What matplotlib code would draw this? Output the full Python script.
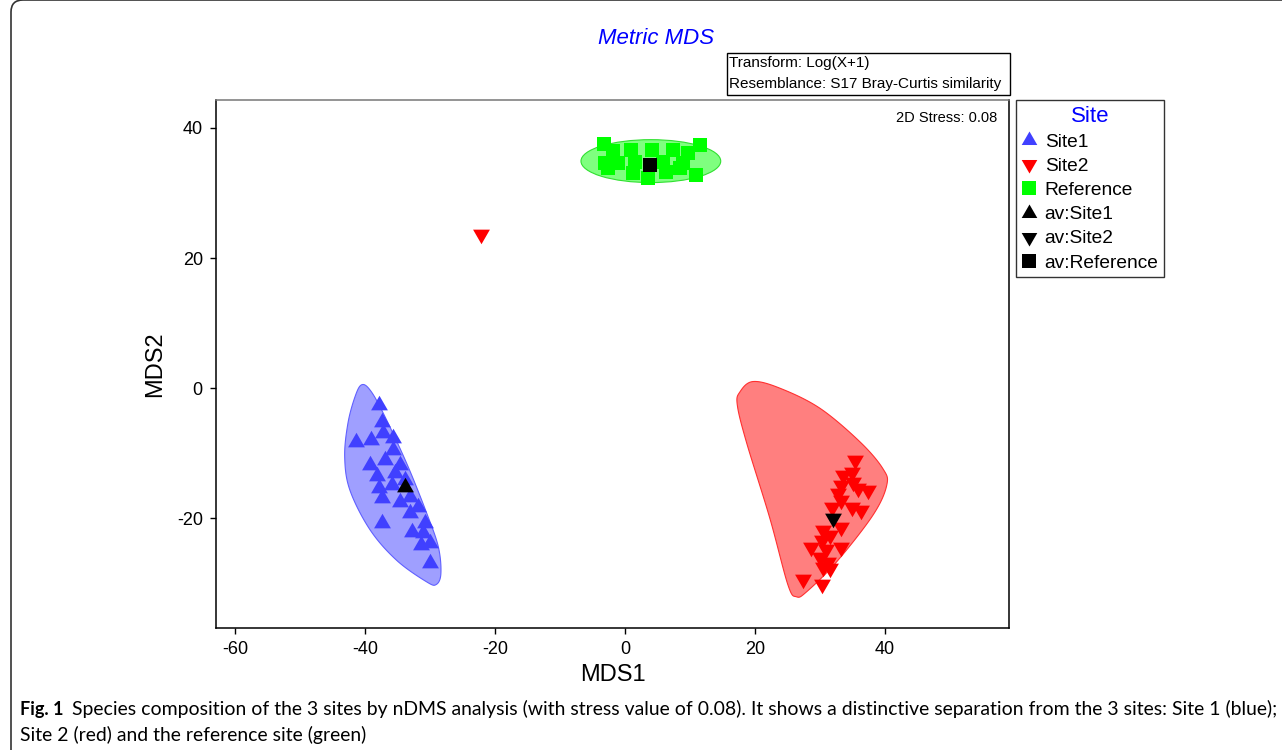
import numpy as np
import matplotlib
matplotlib.use("Agg")
import matplotlib.pyplot as plt
from matplotlib.lines import Line2D
from matplotlib.patches import Polygon, Ellipse, Rectangle, FancyBboxPatch

plt.rcParams["font.family"] = ["Liberation Sans", "DejaVu Sans"]
plt.rcParams["axes.unicode_minus"] = False

# ---- data (MDS1, MDS2) ----
site1_x = [-37.9, -37.4, -41.3, -39.0, -37.2, -35.6, -35.6, -36.9, -39.2, -34.6,
           -38.2, -35.4, -33.8, -37.9, -35.9, -37.4, -34.6, -33.1, -31.8, -33.1,
           -37.4, -30.8, -32.8, -31.0, -30.0, -31.3, -30.0]
site1_y = [-2.6, -5.2, -8.3, -8.0, -6.9, -7.7, -9.5, -11.1, -11.8, -11.8,
           -13.6, -13.1, -14.2, -15.4, -14.9, -16.9, -17.5, -16.7, -18.3, -19.2,
           -20.8, -20.8, -22.1, -22.3, -23.8, -24.2, -26.9]

site2_x = [35.4, 34.9, 33.6, 35.1, 33.3, 35.9, 37.4, 32.8, 33.3, 34.9,
           36.4, 31.8, 33.3, 30.5, 31.5, 30.3, 33.3, 28.7, 31.0, 30.0,
           31.3, 30.5, 31.5, 27.4, 30.3, -22.2]
site2_y = [-11.1, -12.9, -13.4, -14.4, -14.9, -15.4, -15.7, -16.2, -17.2, -18.3,
           -18.8, -18.3, -21.3, -21.8, -22.6, -23.4, -24.4, -24.4, -24.7, -26.0,
           -26.7, -27.5, -27.7, -29.3, -30.1, 23.7]

ref_x = [-3.2, -1.8, 1.0, 4.1, 7.4, 9.7, 11.6, -3.1, -1.0, 1.5,
         5.9, 9.0, -2.6, 1.3, 3.6, 6.4, 8.5, 11.0]
ref_y = [37.6, 36.4, 36.6, 36.6, 36.6, 36.1, 37.4, 34.6, 34.6, 34.8,
         34.8, 34.6, 33.8, 33.0, 32.3, 33.3, 33.8, 32.8]

# group averages
av_site1 = (-33.8, -15.2)
av_site2 = (32.0, -20.0)
av_ref = (3.8, 34.3)

# outline vertices of the group envelopes
hull1_x = [-40.5, -39.2, -37.2, -33.6, -30.5, -28.7, -28.3, -29.0, -30.5, -35.1,
           -39.2, -42.3, -43.1, -42.6, -41.5]
hull1_y = [0.5, -0.3, -3.8, -11.5, -19.2, -24.4, -28.5, -30.2, -29.8, -26.5,
           -21.8, -15.7, -10.6, -5.4, -1.3]
hull2_x = [17.7, 19.7, 23.8, 30.0, 36.2, 39.7, 40.3, 38.2, 32.6, 28.0,
           26.4, 25.1, 22.3, 18.7, 17.3]
hull2_y = [-0.6, 1.0, 0.0, -3.1, -8.3, -12.4, -14.9, -19.5, -26.7, -31.3,
           -32.1, -30.3, -20.0, -8.3, -2.6]
ref_ellipse = (4.0, 34.9, 21.5, 6.6)  # centre x, centre y, width, height

BLUE = "#4040ff"
RED = "#ff0000"
GREEN = "#00ff00"

tri_up = [(-1, -0.577), (1, -0.577), (0, 1.155)]
tri_dn = [(-1, 0.577), (1, 0.577), (0, -1.155)]


def smooth_closed(xs, ys, n=20):
    # closed Catmull-Rom spline through the outline vertices
    p = np.column_stack([xs, ys])
    k = len(p)
    t = np.linspace(0, 1, n, endpoint=False)[:, None]
    out = []
    for i in range(k):
        p0, p1, p2, p3 = p[i - 1], p[i], p[(i + 1) % k], p[(i + 2) % k]
        seg = 0.5 * ((2 * p1) + (-p0 + p2) * t + (2 * p0 - 5 * p1 + 4 * p2 - p3) * t ** 2
                     + (-p0 + 3 * p1 - 3 * p2 + p3) * t ** 3)
        out.append(seg)
    return np.vstack(out)


fig = plt.figure(figsize=(12.82, 7.5), dpi=100)
ax = fig.add_axes([216 / 1282, 1 - 628 / 750, 793 / 1282, 528 / 750])

ax.add_patch(Polygon(smooth_closed(hull1_x, hull1_y), closed=True,
                     facecolor=BLUE, alpha=0.5, edgecolor="none", zorder=1))
ax.add_patch(Polygon(smooth_closed(hull1_x, hull1_y), closed=True,
                     facecolor="none", edgecolor="#6060ff", lw=0.8, zorder=1))
ax.add_patch(Polygon(smooth_closed(hull2_x, hull2_y), closed=True,
                     facecolor=RED, alpha=0.5, edgecolor="none", zorder=1))
ax.add_patch(Polygon(smooth_closed(hull2_x, hull2_y), closed=True,
                     facecolor="none", edgecolor="#ff3030", lw=0.8, zorder=1))
ex, ey, ew, eh = ref_ellipse
ax.add_patch(Ellipse((ex, ey), ew, eh, facecolor=GREEN, alpha=0.5,
                     edgecolor="none", zorder=1))
ax.add_patch(Ellipse((ex, ey), ew, eh, facecolor="none",
                     edgecolor="#30e030", lw=0.8, zorder=1))

ax.plot(site1_x, site1_y, ls="none", marker=tri_up, ms=14, color=BLUE, mew=0, zorder=3)
ax.plot(site2_x, site2_y, ls="none", marker=tri_dn, ms=14, color=RED, mew=0, zorder=3)
ax.plot(ref_x, ref_y, ls="none", marker="s", ms=10.5, color=GREEN, mew=0, zorder=3)
ax.plot(*av_site1, ls="none", marker=tri_up, ms=14, color="black", mew=0, zorder=4)
ax.plot(*av_site2, ls="none", marker=tri_dn, ms=14, color="black", mew=0, zorder=4)
ax.plot(*av_ref, ls="none", marker="s", ms=10.5, color="black", mew=0, zorder=4)

ax.set_xlim(-62.9, 59.1)
ax.set_ylim(-36.9, 44.3)
ax.set_xticks([-60, -40, -20, 0, 20, 40])
ax.set_yticks([-20, 0, 20, 40])
ax.tick_params(direction="out", length=4.5, width=1, labelsize=13, pad=5,
               top=False, right=False)
for s in ax.spines.values():
    s.set_linewidth(1.1)
ax.spines["top"].set_color("#777777")
ax.set_xlabel("MDS1", fontsize=17, labelpad=4)
ax.set_ylabel("MDS2", fontsize=17, labelpad=8)

ax.text(0.985, 0.965, "2D Stress: 0.08", transform=ax.transAxes,
        ha="right", va="center", fontsize=10.5)

handles = [
    Line2D([], [], ls="none", marker=tri_up, ms=13, color=BLUE, mew=0),
    Line2D([], [], ls="none", marker=tri_dn, ms=13, color=RED, mew=0),
    Line2D([], [], ls="none", marker="s", ms=10, color=GREEN, mew=0),
    Line2D([], [], ls="none", marker=tri_up, ms=13, color="black", mew=0),
    Line2D([], [], ls="none", marker=tri_dn, ms=13, color="black", mew=0),
    Line2D([], [], ls="none", marker="s", ms=10, color="black", mew=0),
]
labels = ["Site1", "Site2", "Reference", "av:Site1", "av:Site2", "av:Reference"]
leg = ax.legend(handles, labels, title="Site", loc="upper left",
                bbox_to_anchor=(1.0088, 1.0), borderaxespad=0, fontsize=13.8,
                title_fontsize=16, frameon=True, fancybox=False,
                edgecolor="black", handlelength=0.8, handletextpad=0.4,
                labelspacing=0.35, borderpad=0.3)
leg.get_title().set_color("blue")
leg.get_frame().set_linewidth(1.0)

fig.text(656 / 1282, 1 - 38 / 750, "Metric MDS", color="blue", style="italic",
         fontsize=16, ha="center", va="center")

fig.add_artist(Rectangle((727 / 1282, 1 - 95 / 750), 283 / 1282, 42 / 750,
                         transform=fig.transFigure, facecolor="white",
                         edgecolor="black", lw=1.0))
fig.text(729 / 1282, 1 - 63 / 750, "Transform: Log(X+1)", fontsize=11, va="center")
fig.text(729 / 1282, 1 - 84 / 750, "Resemblance: S17 Bray-Curtis similarity",
         fontsize=11, va="center")

fig.add_artist(FancyBboxPatch((11, -60), 1400, 810, boxstyle="round,pad=0,rounding_size=12",
                              transform=None, facecolor="none", edgecolor="#333333", lw=1.2))

# caption: "Fig. 1" in bold, then the body sized to end where the reference line ends
cap_font = ["Lato", "Liberation Sans", "DejaVu Sans"]
renderer = fig.canvas.get_renderer()
fig_lbl = fig.text(20 / 1282, 1 - 709 / 750, "Fig. 1", fontsize=13, weight="bold",
                   family=cap_font, va="center")
lbl_end = fig_lbl.get_window_extent(renderer).x1
start = lbl_end + 9
body = fig.text(start / 1282, 1 - 709 / 750,
                "Species composition of the 3 sites by nDMS analysis (with stress value of 0.08). "
                "It shows a distinctive separation from the 3 sites: Site 1 (blue);",
                fontsize=12, family=cap_font, va="center")
line2 = fig.text(20 / 1282, 1 - 735 / 750, "Site 2 (red) and the reference site (green)",
                 fontsize=12, family=cap_font, va="center")
w = body.get_window_extent(renderer).width
size = 12 * (1268 - start) / w
body.set_fontsize(size)
line2.set_fontsize(size)

fig.savefig("out.png", dpi=100)
